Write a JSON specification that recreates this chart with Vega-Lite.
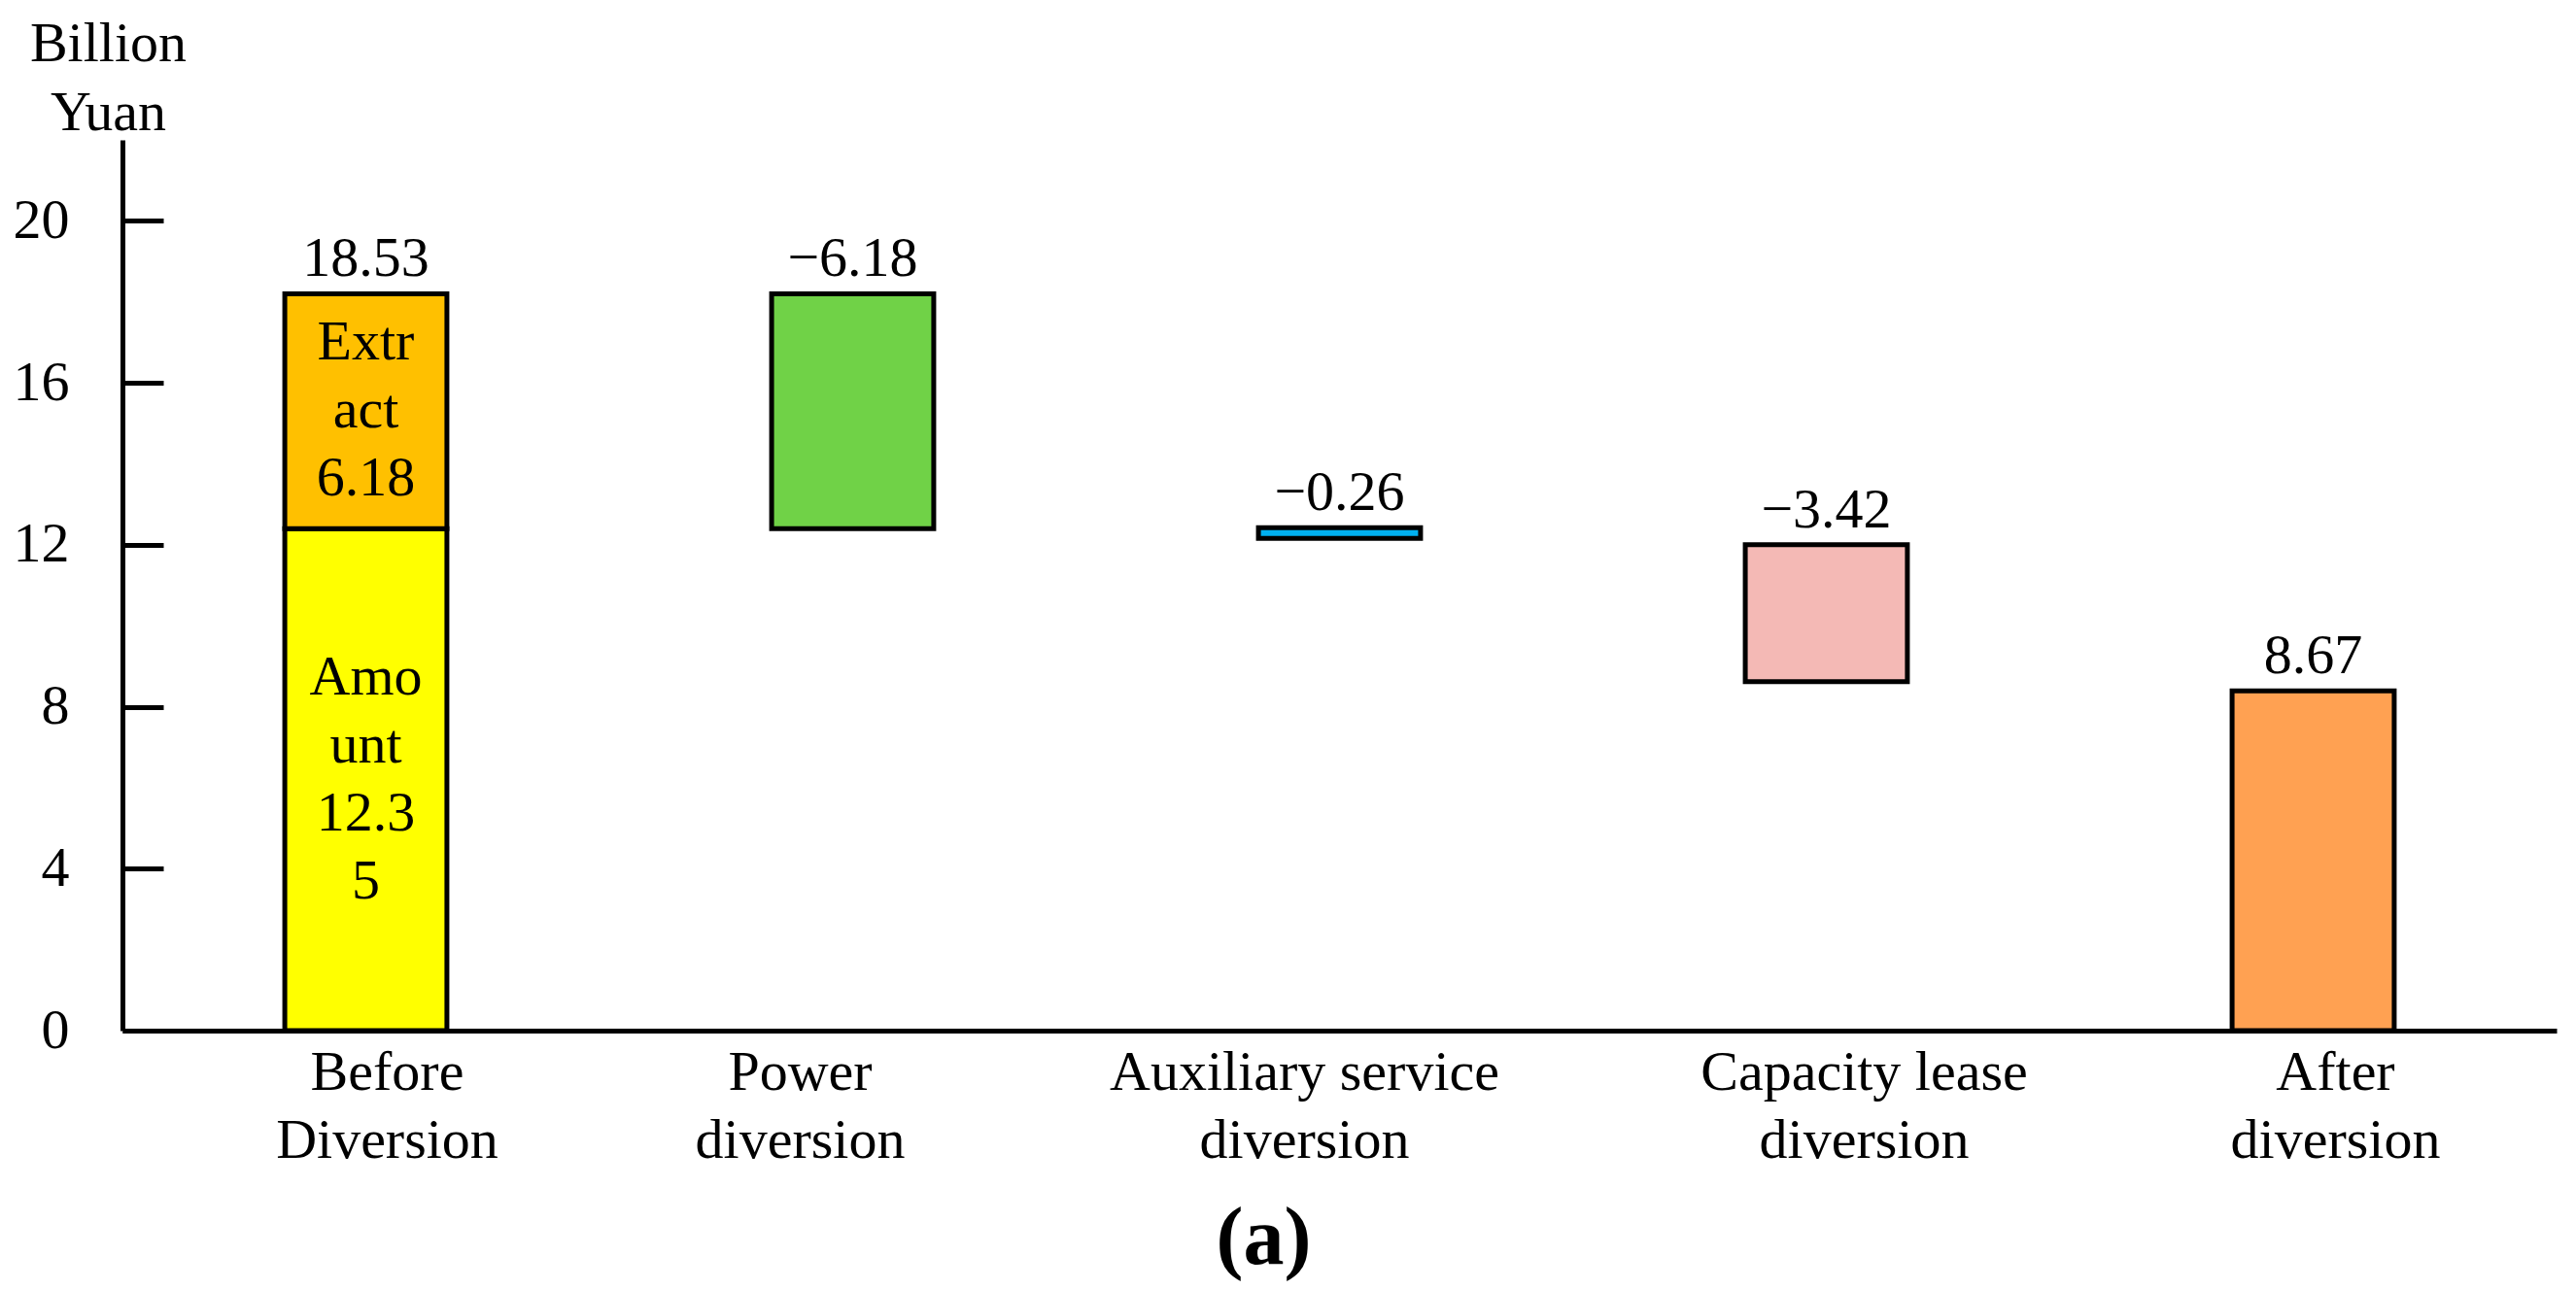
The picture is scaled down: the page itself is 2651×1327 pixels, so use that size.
{
  "$schema": "https://vega.github.io/schema/vega-lite/v6.json",
  "width": 2505,
  "height": 917,
  "autosize": "none",
  "padding": {"left": 126, "top": 144, "right": 20, "bottom": 266},
  "background": "white",
  "config": {"view": {"stroke": null}, "font": "Liberation Serif"},
  "title": {"text": "(a)", "orient": "bottom", "anchor": "middle", "fontSize": 84, "fontWeight": "bold", "font": "Liberation Serif", "color": "black", "dx": -78, "offset": 32},
  "datasets": {
    "bars": [
      {"category": "Before Diversion", "part": "Amount", "low": 0, "high": 12.4, "inner": "Amo\nunt\n12.3\n5"},
      {"category": "Before Diversion", "part": "Extract", "low": 12.4, "high": 18.2, "inner": "Extr\nact\n6.18"},
      {"category": "Power diversion", "part": "Power diversion", "low": 12.4, "high": 18.2, "inner": ""},
      {"category": "Auxiliary service diversion", "part": "Auxiliary service diversion", "low": 12.16, "high": 12.42, "inner": ""},
      {"category": "Capacity lease diversion", "part": "Capacity lease diversion", "low": 8.62, "high": 12.0, "inner": ""},
      {"category": "After diversion", "part": "After diversion", "low": 0, "high": 8.39, "inner": ""}
    ],
    "tops": [
      {"category": "Before Diversion", "top": 18.2, "label": "18.53"},
      {"category": "Power diversion", "top": 18.2, "label": "−6.18"},
      {"category": "Auxiliary service diversion", "top": 12.42, "label": "−0.26"},
      {"category": "Capacity lease diversion", "top": 12.0, "label": "−3.42"},
      {"category": "After diversion", "top": 8.39, "label": "8.67"}
    ]
  },
  "layer": [
    {
      "data": {"name": "bars"},
      "mark": {"type": "bar", "width": {"band": 0.333}, "stroke": "black", "strokeWidth": 5},
      "encoding": {
        "x": {
          "field": "category", "type": "nominal", "title": null,
          "sort": ["Before Diversion", "Power diversion", "Auxiliary service diversion", "Capacity lease diversion", "After diversion"],
          "scale": {"paddingInner": 0, "paddingOuter": 0},
          "axis": {
            "labelAngle": 0, "labelFont": "Liberation Serif", "labelFontSize": 58, "labelColor": "black",
            "labelPadding": 14, "labelLineHeight": 70, "labelBaseline": "top", "labelLimit": 1000, "labelOverlap": false,
            "labelExpr": "[substring(datum.value, 0, lastindexof(datum.value, ' ')), substring(datum.value, lastindexof(datum.value, ' ') + 1)]",
            "labelOffset": {"condition": [
              {"test": "datum.value === 'Before Diversion'", "value": 22},
              {"test": "datum.value === 'Power diversion'", "value": -54},
              {"test": "datum.value === 'Auxiliary service diversion'", "value": -36},
              {"test": "datum.value === 'Capacity lease diversion'", "value": 39},
              {"test": "datum.value === 'After diversion'", "value": 23}
            ], "value": 0},
            "ticks": false, "domainColor": "black", "domainWidth": 5, "grid": false
          }
        },
        "y": {
          "field": "low", "type": "quantitative", "title": ["Billion", "Yuan"],
          "scale": {"domain": [0, 22], "nice": false, "zero": true},
          "axis": {
            "values": [0, 4, 8, 12, 16, 20],
            "titleAngle": 0, "titleAlign": "center", "titleBaseline": "alphabetic",
            "titleX": -15, "titleY": -82, "titleFont": "Liberation Serif", "titleFontSize": 58, "titleFontWeight": "normal",
            "titleLineHeight": 71, "titleColor": "black",
            "labelFont": "Liberation Serif", "labelFontSize": 58, "labelColor": "black", "labelPadding": 97, "labelFlush": false,
            "tickSize": -42, "tickWidth": 5, "tickColor": "black",
            "domainColor": "black", "domainWidth": 5, "grid": false
          }
        },
        "y2": {"field": "high"},
        "color": {
          "field": "part", "type": "nominal", "legend": null,
          "scale": {
            "domain": ["Amount", "Extract", "Power diversion", "Auxiliary service diversion", "Capacity lease diversion", "After diversion"],
            "range": ["#FFFF00", "#FFC000", "#70D247", "#00B0F0", "#F4B9B5", "#FFA152"]
          }
        }
      }
    },
    {
      "data": {"name": "bars"},
      "transform": [
        {"filter": "datum.part === 'Extract'"},
        {"calculate": "(datum.low + datum.high) / 2", "as": "mid"}
      ],
      "mark": {"type": "text", "font": "Liberation Serif", "fontSize": 58, "baseline": "middle", "align": "center", "lineHeight": 70, "lineBreak": "\n", "color": "black", "dy": -70},
      "encoding": {
        "x": {"field": "category", "type": "nominal", "title": null, "sort": ["Before Diversion", "Power diversion", "Auxiliary service diversion", "Capacity lease diversion", "After diversion"]},
        "y": {"field": "mid", "type": "quantitative", "title": ["Billion", "Yuan"]},
        "text": {"field": "inner", "type": "nominal"}
      }
    },
    {
      "data": {"name": "bars"},
      "transform": [
        {"filter": "datum.part === 'Amount'"},
        {"calculate": "(datum.low + datum.high) / 2", "as": "mid"}
      ],
      "mark": {"type": "text", "font": "Liberation Serif", "fontSize": 58, "baseline": "middle", "align": "center", "lineHeight": 70, "lineBreak": "\n", "color": "black", "dy": -105},
      "encoding": {
        "x": {"field": "category", "type": "nominal", "title": null, "sort": ["Before Diversion", "Power diversion", "Auxiliary service diversion", "Capacity lease diversion", "After diversion"]},
        "y": {"field": "mid", "type": "quantitative", "title": ["Billion", "Yuan"]},
        "text": {"field": "inner", "type": "nominal"}
      }
    },
    {
      "data": {"name": "tops"},
      "mark": {"type": "text", "font": "Liberation Serif", "fontSize": 58, "baseline": "alphabetic", "align": "center", "dy": -18, "color": "black"},
      "encoding": {
        "x": {"field": "category", "type": "nominal", "title": null, "sort": ["Before Diversion", "Power diversion", "Auxiliary service diversion", "Capacity lease diversion", "After diversion"]},
        "y": {"field": "top", "type": "quantitative", "title": ["Billion", "Yuan"]},
        "text": {"field": "label", "type": "nominal"}
      }
    }
  ]
}
